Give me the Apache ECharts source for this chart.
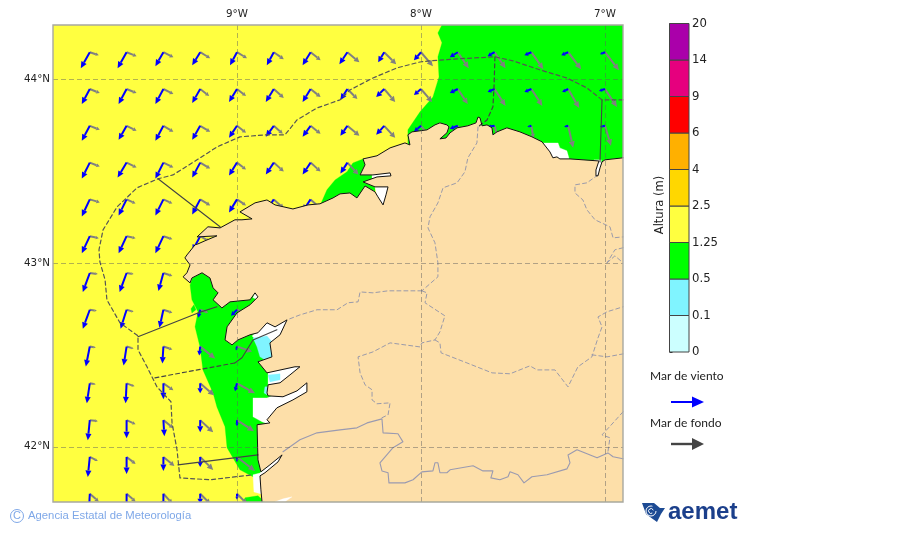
<!DOCTYPE html>
<html><head><meta charset="utf-8">
<style>html,body{margin:0;padding:0;background:#fff}#c{width:900px;height:533px}</style>
<script src="https://cdn.jsdelivr.net/npm/echarts@6/dist/echarts.min.js"></script>
</head><body><div id="c"></div>
<script>
// ---- tick labels / legend values
const lonTicks = [-9, -8, -7];
const latTicks = [42, 43, 44];
const colorbarLabels = ['0','0.1','0.5','1.25','2.5','4','6','9','14','20'];
const colorbarColors = ['#CCFFFF','#80F4FF','#00FF00','#FFFF40','#FFD700','#FFB000','#FF0000','#E6007E','#AA00AA'];

// ---- wave grid (degrees) and components (eastward, northward; tenths of a unit)
const gridLons = [-9.8,-9.6,-9.4,-9.2,-9.0,-8.8,-8.6,-8.4,-8.2,-8.0,-7.8,-7.6,-7.4,-7.2,-7.0];
const gridLats = [44.145,43.945,43.745,43.545,43.345,43.145,42.945,42.745,42.545,42.345,42.145,41.945,41.745];
const windU = [
 [-9,-9,-8,-8,-7,-7,-8,-8,-6,-7,-8,-7,-7,-7,-5],
 [-8,-8,-8,-8,-8,-8,-8,-7,-8,-7,-8,-7,-7,-6,-6],
 [-8,-8,-8,-8,-8,-8,-8,-7,-8,-7,-8,-7,-4,-4,-5],
 [-8,-9,-8,-8,-8,-8,-8,-7],
 [-8,-8,-8,-8,-8,-8,-8],
 [-8,-8,-8,-8],
 [-7,-7,-5],
 [-7,-6,-4,-2,-6],
 [-4,-3,-1,-1,-1],
 [-3,-1,0,0,-2],
 [-2,0,1,0,0],
 [-2,0,0,0,0],
 [-1,0,0,0,0]];
const windV = [
 [-16,-16,-14,-13,-13,-13,-13,-12,-10,-8,-5,-4,-3,-3,-2],
 [-15,-15,-15,-14,-13,-13,-13,-11,-8,-6,-4,-3,-3,-3,-2],
 [-15,-14,-15,-14,-12,-11,-11,-10,-9,-6,-3,-1,-1,-1,-1],
 [-16,-15,-16,-15,-13,-12,-12,-11],
 [-17,-16,-16,-15,-13,-12,-12],
 [-17,-17,-17,-15],
 [-19,-19,-18],
 [-19,-19,-18,-8,-6],
 [-20,-19,-17,-9,-4],
 [-20,-20,-16,-10,-8],
 [-20,-18,-16,-12,-6],
 [-20,-17,-14,-10,-5],
 [-20,-18,-14,-10,-6]];
const swellU = [
 [9,10,10,10,10,10,10,12,12,12,11,11,12,13,14],
 [10,10,10,9,9,10,10,10,11,11,10,11,11,11,12],
 [10,10,10,10,9,9,10,12,11,10,10,3,2,5,6],
 [10,10,10,10,9,10,10,11],
 [10,9,9,10,9,10,10],
 [9,9,9,9],
 [8,7,9],
 [7,7,9,8,5],
 [6,7,9,15,15],
 [6,8,10,14,18],
 [8,9,10,13,17],
 [8,9,11,13,18],
 [9,9,9,10,10]];
const swellV = [
 [-3,-4,-5,-6,-6,-7,-8,-10,-12,-14,-16,-16,-17,-17,-18],
 [-4,-4,-5,-7,-7,-9,-8,-10,-13,-13,-15,-17,-17,-19,-18],
 [-4,-5,-6,-6,-7,-8,-8,-10,-12,-12,-14,-12,-12,-22,-20],
 [-4,-5,-5,-6,-7,-9,-9,-12],
 [-3,-4,-4,-6,-6,-9,-9],
 [-2,-2,-3,-5],
 [-1,-1,-3],
 [-1,-2,-3,-3,-2],
 [-1,-2,-3,-12,-5],
 [-1,-3,-7,-12,-10],
 [-1,-4,-8,-12,-11],
 [-4,-7,-9,-13,-14],
 [-8,-8,-10,-10,-10]];

// ---- geography as [lon, lat]
const coast = [[-6.902,43.571],[-7,43.56],[-7.016,43.549],[-7.027,43.516],[-7.038,43.473],[-7.049,43.473],[-7.049,43.505],[-7.033,43.554],[-7.19,43.565],[-7.245,43.565],[-7.261,43.576],[-7.283,43.571],[-7.299,43.603],[-7.342,43.658],[-7.397,43.685],[-7.462,43.712],[-7.533,43.734],[-7.587,43.712],[-7.609,43.696],[-7.614,43.734],[-7.641,43.75],[-7.668,43.745],[-7.679,43.788],[-7.69,43.793],[-7.701,43.761],[-7.745,43.745],[-7.804,43.734],[-7.842,43.707],[-7.864,43.679],[-7.897,43.674],[-7.859,43.707],[-7.848,43.739],[-7.859,43.75],[-7.897,43.761],[-7.924,43.75],[-7.967,43.723],[-8.049,43.712],[-8.071,43.696],[-8.06,43.641],[-8.087,43.652],[-8.168,43.625],[-8.239,43.582],[-8.315,43.565],[-8.304,43.533],[-8.331,43.478],[-8.261,43.478],[-8.168,43.489],[-8.163,43.473],[-8.239,43.467],[-8.315,43.44],[-8.25,43.413],[-8.179,43.413],[-8.19,43.37],[-8.206,43.315],[-8.234,43.359],[-8.25,43.386],[-8.304,43.418],[-8.348,43.353],[-8.386,43.38],[-8.44,43.375],[-8.478,43.353],[-8.549,43.321],[-8.614,43.315],[-8.696,43.293],[-8.793,43.315],[-8.837,43.342],[-8.902,43.326],[-8.984,43.277],[-8.918,43.239],[-8.973,43.234],[-9.011,43.234],[-9.092,43.19],[-9.158,43.196],[-9.217,43.141],[-9.109,43.147],[-9.174,43.12],[-9.212,43.103],[-9.228,43.098],[-9.272,43.043],[-9.283,43.027],[-9.255,42.989],[-9.272,42.946],[-9.293,42.924],[-9.255,42.891],[-9.245,42.918],[-9.19,42.946],[-9.147,42.918],[-9.13,42.864],[-9.103,42.837],[-9.13,42.799],[-9.082,42.755],[-9.038,42.788],[-8.929,42.799],[-8.902,42.837],[-8.886,42.815],[-8.929,42.772],[-9,42.728],[-9.054,42.652],[-9.065,42.581],[-9.027,42.554],[-8.995,42.581],[-8.929,42.609],[-8.886,42.62],[-8.837,42.674],[-8.793,42.652],[-8.728,42.69],[-8.766,42.609],[-8.821,42.565],[-8.81,42.489],[-8.886,42.462],[-8.837,42.402],[-8.685,42.435],[-8.658,42.435],[-8.712,42.391],[-8.766,42.348],[-8.831,42.337],[-8.837,42.293],[-8.831,42.277],[-8.75,42.272],[-8.674,42.304],[-8.62,42.348],[-8.62,42.299],[-8.696,42.255],[-8.783,42.212],[-8.837,42.147],[-8.821,42.13],[-8.891,42.12],[-8.886,41.929],[-8.87,41.864],[-8.821,41.902],[-8.755,41.956],[-8.777,41.918],[-8.848,41.859],[-8.875,41.842],[-8.87,41.766],[-8.864,41.701]];
const landCorners = [[-6.902,41.701]];
const greenAreas = [
 [[-7.886,44.293],[-7.908,44.25],[-7.886,44.196],[-7.908,44.12],[-7.902,44.011],[-7.935,43.902],[-8.005,43.821],[-8.071,43.723],[-8.071,43.614],[-6.902,43.478],[-6.902,44.293]],
 [[-8.549,43.31],[-8.511,43.397],[-8.467,43.451],[-8.402,43.495],[-8.37,43.543],[-8.315,43.565],[-8.288,43.533],[-8.141,43.505],[-8.141,43.451],[-8.25,43.44],[-8.25,43.37],[-8.331,43.288],[-8.522,43.288]],
 [[-9.255,42.88],[-9.245,42.799],[-9.212,42.734],[-9.228,42.652],[-9.201,42.543],[-9.185,42.418],[-9.13,42.293],[-9.109,42.217],[-9.065,42.109],[-9.054,41.995],[-8.984,41.875],[-8.913,41.837],[-8.859,41.853],[-8.821,41.875],[-8.658,42.255],[-8.658,42.799],[-8.929,42.962],[-9.228,42.962]],
 [[-8.967,41.70],[-8.956,41.723],[-8.886,41.734],[-8.848,41.70]],
 [[-9.25,42.75],[-9.234,42.772],[-9.223,42.745],[-9.245,42.728]]];
const whiteAreas = [
 [[-7.337,43.652],[-7.255,43.652],[-7.245,43.625],[-7.207,43.609],[-7.196,43.571],[-7.196,43.533],[-7.353,43.533]],
 [[-7.02,43.56],[-7.02,43.46],[-7.06,43.46],[-7.06,43.56]],
 [[-8.266,43.495],[-8.158,43.5],[-8.158,43.462],[-8.266,43.457]],
 [[-8.25,43.413],[-8.168,43.424],[-8.19,43.299],[-8.234,43.342]],
 [[-8.918,42.603],[-8.831,42.69],[-8.712,42.717],[-8.739,42.609],[-8.81,42.554],[-8.897,42.581]],
 [[-8.913,42.81],[-8.902,42.842],[-8.875,42.826],[-8.886,42.799]],
 [[-8.831,42.408],[-8.658,42.451],[-8.641,42.429],[-8.739,42.337],[-8.831,42.321]],
 [[-8.913,42.266],[-8.837,42.266],[-8.603,42.364],[-8.603,42.284],[-8.793,42.19],[-8.821,42.12],[-8.864,42.136],[-8.913,42.163]],
 [[-8.913,41.848],[-8.848,41.864],[-8.853,41.739],[-8.908,41.755]],
 [[-8.875,41.859],[-8.755,41.962],[-8.739,41.951],[-8.831,41.848]]];
const cyanAreas = [
 [[-8.913,42.592],[-8.837,42.603],[-8.81,42.571],[-8.799,42.473],[-8.821,42.456],[-8.875,42.489],[-8.891,42.543]],
 [[-8.831,42.391],[-8.766,42.397],[-8.766,42.364],[-8.821,42.353]],
 [[-8.848,42.326],[-8.826,42.326],[-8.837,42.283],[-8.853,42.293]]];
const inlandWhite = [[[-8.793,41.701],[-8.75,41.717],[-8.701,41.728],[-8.739,41.701]]];

const zoneDashed = [[-6.902,43.886],[-7.016,43.886],[-7.098,43.951],[-7.207,44.005],[-7.353,44.049],[-7.5,44.098],[-7.598,44.12],[-7.804,44.109],[-7.951,44.098],[-8.005,44.092],[-8.13,44.06],[-8.261,44.005],[-8.386,43.94],[-8.44,43.886],[-8.565,43.842],[-8.674,43.777],[-8.739,43.696],[-8.837,43.696],[-8.984,43.685],[-9.109,43.63],[-9.217,43.56],[-9.348,43.478],[-9.429,43.457],[-9.543,43.408],[-9.652,43.304],[-9.728,43.179],[-9.75,43.071],[-9.745,43.005],[-9.717,42.908],[-9.707,42.799],[-9.636,42.674],[-9.538,42.603],[-9.538,42.527],[-9.489,42.435],[-9.435,42.326],[-9.359,42.245],[-9.353,42.13],[-9.326,41.984],[-9.31,41.831],[-9.147,41.821],[-8.913,41.848]];
const zoneDashedRias = [[-9.446,42.375],[-9.011,42.456]];
const zoneDashedNorth = [[-7.598,44.12],[-7.603,43.957],[-7.609,43.848],[-7.641,43.777],[-7.69,43.739]];
const zoneSolid = [
 [[-9.429,43.457],[-9.092,43.196]],
 [[-9.538,42.598],[-9.212,42.728],[-9.109,42.761]],
 [[-9.011,42.456],[-8.973,42.484],[-8.913,42.581],[-8.783,42.636]],
 [[-9.321,41.902],[-8.886,41.956]],
 [[-7.016,43.886],[-7.027,43.549]]];
const provinces = [
 [[-7.69,43.739],[-7.696,43.652],[-7.745,43.571],[-7.761,43.495],[-7.804,43.435],[-7.88,43.408],[-7.908,43.326],[-7.951,43.25],[-7.962,43.19],[-7.924,43.109],[-7.908,43],[-7.908,42.924],[-7.995,42.848]],
 [[-7.995,42.848],[-8.179,42.848],[-8.261,42.837],[-8.331,42.842],[-8.342,42.788],[-8.397,42.783],[-8.456,42.745],[-8.565,42.745],[-8.658,42.717],[-8.728,42.69]],
 [[-7.995,42.848],[-7.967,42.837],[-7.978,42.783],[-7.87,42.712],[-7.897,42.625],[-7.924,42.581],[-7.995,42.565],[-8.005,42.543],[-8.168,42.565],[-8.261,42.516],[-8.342,42.489],[-8.331,42.402],[-8.304,42.337],[-8.266,42.31],[-8.266,42.255],[-8.239,42.234],[-8.168,42.239],[-8.179,42.174],[-8.212,42.158]],
 [[-7.924,42.581],[-7.897,42.565],[-7.891,42.511],[-7.75,42.456],[-7.614,42.402],[-7.516,42.397],[-7.408,42.44],[-7.369,42.418],[-7.272,42.418],[-7.201,42.326],[-7.147,42.435],[-7.071,42.489],[-7.038,42.592],[-7.016,42.652],[-7.038,42.706],[-6.989,42.734],[-6.902,42.761]],
 [[-7.071,42.5],[-6.989,42.489],[-6.902,42.505]],
 [[-7.038,43.478],[-7.098,43.435],[-7.163,43.424],[-7.163,43.38],[-7.12,43.342],[-7.098,43.288],[-7.054,43.234],[-6.973,43.196],[-6.956,43.136],[-6.902,43.141]],
 [[-6.902,43.082],[-6.946,43.071],[-6.989,43]],
 [[-6.989,43],[-6.946,43.038],[-6.907,43.005]],
 [[-6.902,42.19],[-6.956,42.13],[-7.016,42.065],[-6.973,42.049],[-6.984,41.973]]];
const portugal = [[-8.75,41.973],[-8.658,42.038],[-8.565,42.076],[-8.44,42.092],[-8.348,42.103],[-8.293,42.13],[-8.212,42.152],[-8.206,42.076],[-8.125,42.071],[-8.098,42.027],[-8.152,41.995],[-8.223,41.913],[-8.212,41.869],[-8.179,41.859],[-8.174,41.804],[-8.087,41.804],[-8.043,41.821],[-7.995,41.864],[-7.935,41.869],[-7.924,41.913],[-7.908,41.913],[-7.897,41.859],[-7.859,41.859],[-7.842,41.875],[-7.717,41.897],[-7.663,41.869],[-7.609,41.869],[-7.62,41.831],[-7.571,41.821],[-7.527,41.837],[-7.516,41.864],[-7.473,41.848],[-7.44,41.804],[-7.397,41.837],[-7.315,41.848],[-7.207,41.88],[-7.19,41.913],[-7.201,41.956],[-7.152,41.984],[-7.043,41.94],[-6.984,41.967],[-6.956,41.946],[-6.902,41.935]];

// ---- builders
function areaSeries(polys, color, z) {
  return {type:'custom', coordinateSystem:'cartesian2d', z, silent:true, clip:true, animation:false,
    data: polys.map((_, i) => [i]),
    renderItem(params, api) {
      const points = polys[api.value(0)].map(p => api.coord(p));
      return {type:'polygon', shape:{points}, style:{fill:color, stroke:color, lineWidth:.3}};
    }};
}
function lineSeries(data, color, width, dash, z) {
  return {type:'line', data, z, silent:true, showSymbol:false, animation:false, clip:true, smooth:false,
    lineStyle:{color, width, type:dash||'solid', cap:'round', join:'round'}};
}
function arrowSeries(us, vs, color, z, shaft, maxHead, ratio, halfWidth) {
  const data = [];
  gridLats.forEach((lat, r) => gridLons.forEach((lon, c) => {
    if (us[r][c] !== undefined) data.push([lon, lat, us[r][c], vs[r][c]]);
  }));
  return {type:'custom', coordinateSystem:'cartesian2d', z, silent:true, clip:true, animation:false, data,
    renderItem(params, api) {
      const o = api.coord([api.value(0), api.value(1)]);
      const dx = api.value(2), dy = -api.value(3), len = Math.hypot(dx, dy) || 1;
      const ux = dx/len, uy = dy/len, t = [o[0]+dx, o[1]+dy];
      const hl = Math.min(maxHead, len*ratio), hw = Math.min(halfWidth, hl*.55);
      const b = [t[0]-ux*hl, t[1]-uy*hl];
      return {type:'group', children:[
        {type:'line', shape:{x1:o[0], y1:o[1], x2:b[0], y2:b[1]}, style:{stroke:color, lineWidth:shaft, fill:null}},
        {type:'polygon', shape:{points:[t,[b[0]-uy*hw,b[1]+ux*hw],[b[0]+uy*hw,b[1]-ux*hw]]}, style:{fill:color}}
      ]};
    }};
}
const colorbarSeries = {type:'custom', coordinateSystem:'cartesian2d', xAxisIndex:1, yAxisIndex:1, z:2, silent:true,
  animation:false, data: colorbarColors.map((_, i) => [i]),
  renderItem(params, api) {
    const i = api.value(0), a = api.coord([0, i+1]), b = api.coord([1, i]);
    return {type:'rect', shape:{x:a[0], y:a[1], width:b[0]-a[0], height:b[1]-a[1]},
      style:{fill:colorbarColors[i], stroke:'#444', lineWidth:1}};
  }};

const fontAxis = {fontFamily:'DejaVu Sans', fontSize:10.3, color:'#222'};
const gridLine = {show:true, lineStyle:{color:'rgba(95,95,95,.48)', width:1, type:[5,3]}};
const chart = echarts.init(document.getElementById('c'), null, {renderer:'canvas'});
chart.setOption({
  animation:false, backgroundColor:'#fff',
  grid:[
    {left:53, top:25, width:570, height:477, show:true, backgroundColor:'#FFFF40', borderWidth:0},
    {left:669.5, top:23.5, width:19.5, height:328.5, show:false}
  ],
  xAxis:[
    {type:'value', gridIndex:0, min:-10, max:-6.902, position:'top', z:9, axisLine:{show:false},
     axisTick:{show:false, customValues:lonTicks},
     axisLabel:{...fontAxis, margin:6, customValues:lonTicks, formatter:v => Math.abs(v)+'°W'}, splitLine:gridLine},
    {type:'value', gridIndex:1, min:0, max:1, show:false}
  ],
  yAxis:[
    {type:'value', gridIndex:0, min:41.7, max:44.293, z:9, axisLine:{show:false},
     axisTick:{show:false, customValues:latTicks},
     axisLabel:{...fontAxis, margin:3, customValues:latTicks, formatter:v => v+'°N'}, splitLine:gridLine},
    {type:'value', gridIndex:1, min:0, max:9, interval:1, position:'right', axisLine:{show:false},
     axisTick:{show:true, length:3, lineStyle:{color:'#333'}}, splitLine:{show:false},
     axisLabel:{fontFamily:'DejaVu Sans', fontSize:11.7, color:'#222', margin:3, formatter:v => colorbarLabels[v]}}
  ],
  series:[
    areaSeries(greenAreas,'#00FF00',1),
    areaSeries(whiteAreas,'#FFFFFF',2),
    areaSeries(cyanAreas,'#80F4FF',3),
    arrowSeries(swellU,swellV,'#808080',4,2,6.5,.33,3),
    arrowSeries(windU,windV,'#0000FF',5,2,6.5,.5,3),
    areaSeries([coast.concat(landCorners)],'#FDDFA9',6),
    areaSeries(inlandWhite,'#FFFFFF',6.5),
    lineSeries(zoneDashed,'#555',1.2,[4,3],7),
    lineSeries(zoneDashedRias,'#444',1.2,[4,3],7),
    lineSeries(zoneDashedNorth,'#444',1.2,[4,3],7),
    ...zoneSolid.map(l => lineSeries(l,'#444',1.1,null,7)),
    ...provinces.map(l => lineSeries(l,'#9a9aaa',1,[4,3],7)),
    lineSeries(portugal,'#9a9ab0',1.1,null,7),
    lineSeries(coast,'#111',1,null,8),
    colorbarSeries
  ],
  graphic:[
    {type:'rect', z:20, shape:{x:53, y:25, width:570, height:477}, style:{fill:null, stroke:'#a8a8a0', lineWidth:1.4}},
    {type:'text', x:660, y:205, rotation:Math.PI/2, originX:0, originY:0,
      style:{text:'Altura (m)', font:'11.5px "DejaVu Sans"', fill:'#222', textAlign:'center', textVerticalAlign:'middle'}},
    {type:'text', left:650, top:370, style:{text:'Mar de viento', font:'12px Lato', fill:'#222'}},
    {type:'text', left:650, top:417, style:{text:'Mar de fondo', font:'12px Lato', fill:'#222'}},
    {type:'line', shape:{x1:671, y1:402, x2:694, y2:402}, style:{stroke:'#0000FF', lineWidth:2}},
    {type:'polygon', shape:{points:[[692,396.5],[704,402],[692,407.5]]}, style:{fill:'#0000FF'}},
    {type:'line', shape:{x1:671, y1:444, x2:694, y2:444}, style:{stroke:'#444', lineWidth:2.4}},
    {type:'polygon', shape:{points:[[692,438],[704,444],[692,450]]}, style:{fill:'#444'}},
    {type:'polygon', shape:{points:[[642,503],[654,503],[660,508],[665,508],[661,514],[657,522],[650,517],[646,514]]}, style:{fill:'#1d4b94'}},
    {type:'arc', shape:{cx:651, cy:511, r:5, startAngle:0, endAngle:5}, style:{stroke:'#fff', lineWidth:1, fill:null}},
    {type:'arc', shape:{cx:651, cy:511, r:2.4, startAngle:1, endAngle:6}, style:{stroke:'#fff', lineWidth:1, fill:null}},
    {type:'text', left:668, top:500, style:{text:'aemet', font:'bold 24px "Liberation Sans"', fill:'#1b3f8b'}},
    {type:'circle', shape:{cx:17, cy:516, r:6.5}, style:{stroke:'#7fa8e8', lineWidth:1, fill:null}},
    {type:'text', left:13, top:510.5, style:{text:'C', font:'11px "Liberation Sans"', fill:'#7fa8e8'}},
    {type:'text', left:28, top:510.5, style:{text:'Agencia Estatal de Meteorología', font:'11.3px "Liberation Sans"', fill:'#7fa8e8'}}
  ]
});
</script></body></html>
